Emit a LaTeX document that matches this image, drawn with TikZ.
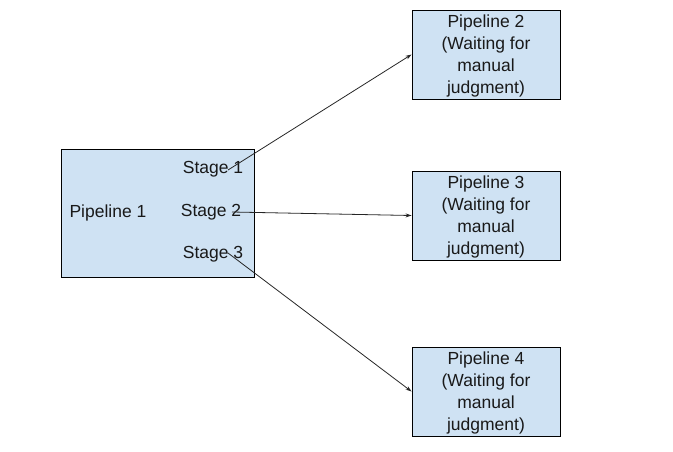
\documentclass[tikz,border=0pt]{standalone}
\usepackage{fontspec}
\setmainfont{Liberation Sans}
\usetikzlibrary{arrows.meta}
\definecolor{boxblue}{HTML}{CFE2F3}
\begin{document}
\begin{tikzpicture}[x=1pt,y=-1pt,
  box/.style={draw=black, fill=boxblue, line width=0.9pt, inner sep=0pt},
  lbl/.style={font=\fontsize{17.5}{21.7}\selectfont, align=center, inner sep=0pt, text=black!90},
  conn/.style={draw=black!85, line width=0.8pt, -{Stealth[length=6pt,width=4pt]}}]
\useasboundingbox (0,0) rectangle (673,451);
% boxes
\node[box, minimum width=193pt, minimum height=128pt] (p1) at (157.5,213) {};
\node[box, minimum width=148pt, minimum height=89pt] (p2) at (486,54.5) {};
\node[box, minimum width=148pt, minimum height=89pt] (p3) at (486,215.5) {};
\node[box, minimum width=148pt, minimum height=89pt] (p4) at (486,391.5) {};
% texts
\node[lbl] (t1) at (108,212.5) {Pipeline 1};
\node[lbl] (s1) at (213,169.5) {Stage 1};
\node[lbl] (s2) at (211,212.5) {Stage 2};
\node[lbl] (s3) at (213,254.5) {Stage 3};
\node[lbl] (t2) at ([yshift=-1.5pt]p2.center) {Pipeline 2\\(Waiting for\\manual\\judgment)};
\node[lbl] (t3) at ([yshift=-1.5pt]p3.center) {Pipeline 3\\(Waiting for\\manual\\judgment)};
\node[lbl] (t4) at ([yshift=-1.5pt]p4.center) {Pipeline 4\\(Waiting for\\manual\\judgment)};
% connectors
\coordinate (a1) at (228,170);
\coordinate (a2) at (232,212);
\coordinate (a3) at (228,253);
\draw[conn] (a1) -- (p2.west);
\draw[conn] (a2) -- (p3.west);
\draw[conn] (a3) -- (p4.west);
\end{tikzpicture}
\end{document}
